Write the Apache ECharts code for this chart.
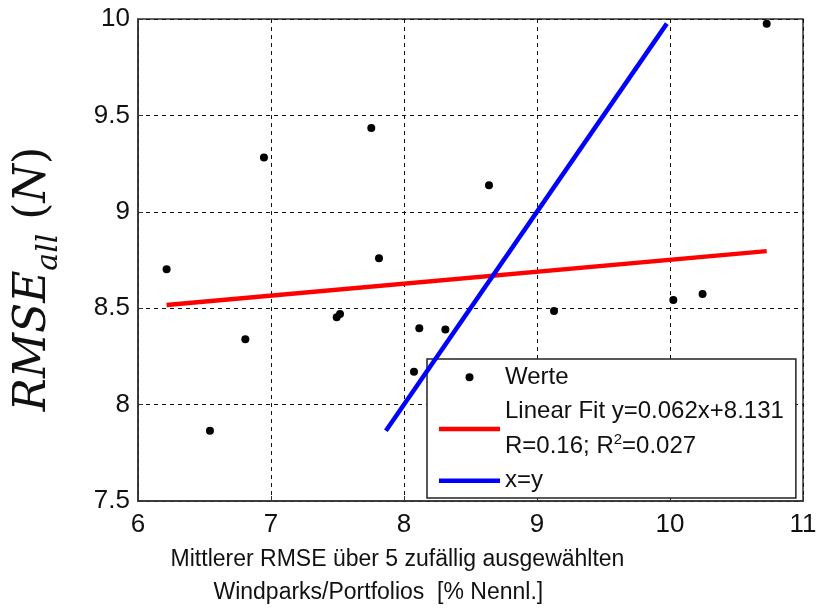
<!DOCTYPE html>
<html>
<head>
<meta charset="utf-8">
<script src="https://cdn.jsdelivr.net/npm/echarts@6/dist/echarts.min.js"></script>
<style>
  html, body { margin: 0; padding: 0; background: #fff; }
  #chart { width: 817px; height: 608px; }
</style>
</head>
<body>
<div id="chart"></div>
<script>
// Mean RMSE over 5 randomly chosen wind parks / portfolios (x) vs. RMSE of all (y)
const meanRmse = [6.947, 7.754, 8.639, 7.812, 6.215, 6.807, 6.541, 7.494, 7.519,
                  8.115, 8.311, 8.075, 9.128, 10.025, 10.245, 10.727];
const rmseAll  = [9.281, 9.434, 9.138, 8.759, 8.702, 8.339, 7.864, 8.453, 8.470,
                  8.396, 8.390, 8.170, 8.485, 8.543, 8.574, 9.976];

// Linear fit coefficients and statistics
const fitSlope = 0.062;
const fitIntercept = 8.131;
const fitR = 0.16;
const fitR2 = 0.027;

const xTicks = [6, 7, 8, 9, 10, 11];
const yTicks = [7.5, 8, 8.5, 9, 9.5, 10];

const points = meanRmse.map((x, i) => [x, rmseAll[i]]);
const xMin = Math.min(...meanRmse), xMax = Math.max(...meanRmse);
const yMin = Math.min(...rmseAll), yMax = Math.max(...rmseAll);
const fitLine = [[xMin, fitSlope * xMin + fitIntercept], [xMax, fitSlope * xMax + fitIntercept]];
const identityLine = [[yMin, yMin], [yMax, yMax]];

const fitName = 'Linear Fit';
const font = '"Liberation Sans", Arial, sans-serif';
const serif = '"DejaVu Serif", "Liberation Serif", serif';
// thin bar used as the legend icon of the two lines
const lineIcon = 'path://M0,0 L61,0 L61,4.5 L0,4.5 Z';

const chart = echarts.init(document.getElementById('chart'));
chart.setOption({
  animation: false,
  backgroundColor: '#fff',
  grid: {
    left: 138, right: 14, top: 19, bottom: 107,
    outerBoundsMode: 'none', containLabel: false,
    show: true, borderColor: '#333', borderWidth: 1.5, backgroundColor: 'transparent'
  },
  xAxis: {
    type: 'value', min: xTicks[0], max: xTicks[xTicks.length - 1], interval: 1,
    axisLine: { lineStyle: { color: '#333', width: 1.5 } },
    axisTick: { inside: true, length: 5, lineStyle: { color: '#333' } },
    axisLabel: { fontFamily: font, fontSize: 26, color: '#111', margin: 11 },
    splitLine: { show: true, lineStyle: { color: '#111', type: [4, 4], width: 1 } },
    name: 'Mittlerer RMSE über 5 zufällig ausgewählten\nWindparks/Portfolios  [% Nennl.]      ',
    nameLocation: 'middle', nameGap: 40,
    nameTextStyle: { fontFamily: font, fontSize: 23, color: '#111', lineHeight: 33, padding: [0, 146, 0, 0] }
  },
  yAxis: {
    type: 'value', min: yTicks[0], max: yTicks[yTicks.length - 1], interval: 0.5,
    axisLine: { lineStyle: { color: '#333', width: 1.5 } },
    axisTick: { inside: true, length: 5, lineStyle: { color: '#333' } },
    axisLabel: { fontFamily: font, fontSize: 26, color: '#111', margin: 8 },
    splitLine: { show: true, lineStyle: { color: '#111', type: [4, 4], width: 1 } },
    name: '{i|RMSE}{s|all}{n| (}{i|N}{n|)}',
    nameLocation: 'middle', nameGap: 72, nameRotate: 90,
    nameTextStyle: {
      padding: [0, 38, 0, 0],
      rich: {
        i: { fontFamily: serif, fontStyle: 'italic', fontSize: 44, color: '#111', verticalAlign: 'bottom', padding: [0, 0, 10, 0] },
        n: { fontFamily: serif, fontSize: 44, color: '#111', verticalAlign: 'bottom', padding: [0, 0, 10, 0] },
        s: { fontFamily: serif, fontStyle: 'italic', fontSize: 30, color: '#111', verticalAlign: 'bottom', padding: [0, 0, 2, 0] }
      }
    }
  },
  legend: {
    orient: 'vertical', left: 427, top: 359,
    padding: [1, 12, 0, 12], itemGap: 0,
    itemWidth: 61, itemHeight: 8,
    backgroundColor: '#fff', borderColor: '#222', borderWidth: 1.5, borderRadius: 0,
    textStyle: {
      fontFamily: font, fontSize: 24, color: '#111', lineHeight: 34.5,
      rich: {
        t: { fontFamily: font, fontSize: 24, color: '#111', lineHeight: 34.5 },
        sup: { fontFamily: font, fontSize: 15, color: '#111', lineHeight: 34.5, padding: [0, 0, 12, 0] }
      }
    },
    formatter: name => name === fitName
      ? '{t|Linear Fit y=' + fitSlope.toFixed(3) + 'x+' + fitIntercept.toFixed(3) + '}\n{t|R=' + fitR.toFixed(2) + '; R}{sup|2}{t|=' + fitR2.toFixed(3) + '}'
      : name,
    data: [
      { name: 'Werte', icon: 'circle' },
      { name: fitName, icon: lineIcon },
      { name: 'x=y', icon: lineIcon }
    ]
  },
  series: [
    {
      name: 'Werte', type: 'scatter', data: points,
      symbol: 'circle', symbolSize: 8,
      itemStyle: { color: '#000', opacity: 1 }, z: 5
    },
    {
      name: fitName, type: 'line', data: fitLine,
      showSymbol: false, symbol: 'none',
      lineStyle: { color: '#ff0000', width: 4.5 }, itemStyle: { color: '#ff0000' }, z: 3
    },
    {
      name: 'x=y', type: 'line', data: identityLine,
      showSymbol: false, symbol: 'none',
      lineStyle: { color: '#0000ff', width: 4.5 }, itemStyle: { color: '#0000ff' }, z: 4
    }
  ]
});
</script>
</body>
</html>
